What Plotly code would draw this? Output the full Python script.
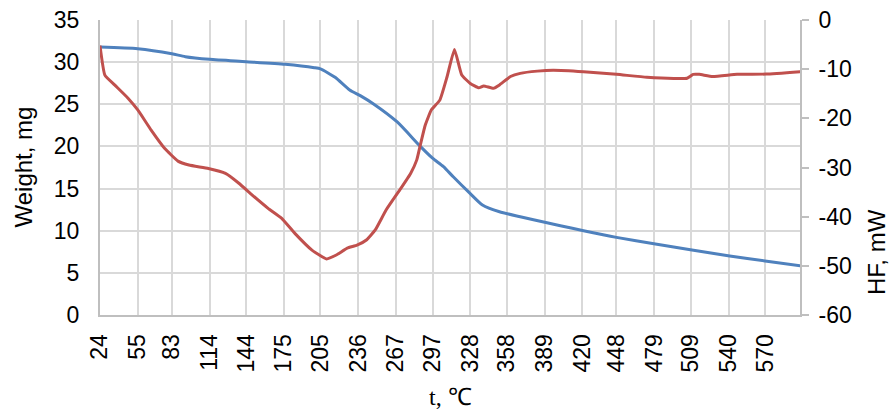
import plotly.graph_objects as go

# Weight (left axis), mg
t_weight = [24, 55, 83, 94, 114, 144, 176, 200, 205, 217, 229, 238, 248, 268, 287, 297, 306, 314, 328, 338, 352, 369, 391, 402, 421, 448, 480, 510, 541, 570, 599]
weight = [31.8, 31.6, 31.0, 30.65, 30.33, 30.05, 29.74, 29.34, 29.2, 28.2, 26.7, 26.0, 25.1, 22.9, 20.0, 18.6, 17.6, 16.4, 14.4, 13.05, 12.25, 11.66, 10.95, 10.6, 10.0, 9.21, 8.42, 7.71, 7.0, 6.41, 5.85]

# Heat flow (right axis), mW
t_hf = [24, 28, 36, 47, 55, 66, 77, 88, 97, 113, 127, 138, 149, 162, 173, 184, 198, 210, 218, 227, 235, 243, 250, 259, 270, 279, 284, 287, 291, 296, 303, 309, 315, 321, 328, 335, 339, 347, 352, 361, 369, 383, 396, 421, 448, 473, 495, 506, 511, 516, 527, 547, 571, 599]
hf = [-5.2, -11.2, -13.2, -15.9, -18.3, -22.4, -26.1, -28.7, -29.5, -30.2, -31.2, -33.2, -35.6, -38.3, -40.3, -43.4, -46.8, -48.6, -47.8, -46.4, -45.8, -44.7, -42.7, -38.6, -34.6, -31.2, -28.5, -25.4, -21.4, -18.3, -16.3, -11.5, -6.0, -11.2, -12.9, -13.8, -13.4, -13.9, -13.2, -11.5, -10.85, -10.4, -10.2, -10.5, -11.05, -11.65, -11.9, -11.85, -11.05, -11.05, -11.5, -11.05, -11.0, -10.5]

x_ticks = [24, 55, 83, 114, 144, 175, 205, 236, 267, 297, 328, 358, 389, 420, 448, 479, 509, 540, 570]
y2_ticks = [-60, -50, -40, -30, -20, -10, 0]
y2_labels = ["-60", "-50", "-40", "-30", "-20", "-10", "0"]

BLUE = "#4F81BD"
RED = "#C0504D"
GRID = "#D9D9D9"
AXIS = "#BFBFBF"
FONT = "Liberation Sans, Arial, sans-serif"
TICK = 23
TITLE = 24

fig = go.Figure()
fig.add_trace(go.Scatter(x=t_weight, y=weight, mode="lines",
                         line=dict(color=BLUE, width=3, shape="spline", smoothing=0.6), yaxis="y", showlegend=False))
fig.add_trace(go.Scatter(x=t_hf, y=hf, mode="lines",
                         line=dict(color=RED, width=3, shape="spline", smoothing=0.4), yaxis="y2", showlegend=False))

fig.update_layout(
    width=891, height=410,
    margin=dict(l=100, r=91, t=20, b=95),
    paper_bgcolor="white", plot_bgcolor="white",
    font=dict(family=FONT, size=TICK, color="black"),
    hovermode=False,
    xaxis=dict(
        range=[24, 598.7], tickmode="array", tickvals=x_ticks, ticktext=[str(v) for v in x_ticks],
        tickangle=-90, showgrid=True, gridcolor=GRID, gridwidth=2,
        showline=True, linecolor=AXIS, linewidth=2, ticks="", zeroline=False,
        tickfont=dict(size=TICK), ticklabelstandoff=8, automargin=False, ticklabeloverflow="allow",
    ),
    yaxis=dict(
        range=[0, 35], tickmode="array", tickvals=[0, 5, 10, 15, 20, 25, 30, 35],
        showgrid=True, gridcolor=GRID, gridwidth=2,
        showline=True, linecolor=AXIS, linewidth=2, ticks="", zeroline=False,
        tickfont=dict(size=TICK), ticklabelstandoff=14, automargin=False, ticklabeloverflow="allow",
    ),
    yaxis2=dict(
        range=[-60, 0], tickmode="array", tickvals=y2_ticks, ticktext=y2_labels,
        overlaying="y", side="right", showgrid=False,
        showline=True, linecolor=AXIS, linewidth=2, ticks="outside", ticklen=7, tickwidth=2, tickcolor=AXIS,
        zeroline=False, tickfont=dict(size=TICK), ticklabelstandoff=5, automargin=False, ticklabeloverflow="allow",
    ),
    annotations=[
        dict(text="Weight, mg", xref="paper", yref="paper", x=-0.11, y=0.5, xanchor="center", yanchor="middle",
             textangle=-90, showarrow=False, font=dict(size=TITLE, family=FONT)),
        dict(text="HF, mW", xref="paper", yref="paper", x=1.11, y=0.2136, xanchor="center", yanchor="middle",
             textangle=-90, showarrow=False, font=dict(size=TITLE, family=FONT)),
        dict(text="t, ℃", xref="paper", yref="paper", x=0.5, y=-0.278, xanchor="center", yanchor="middle",
             showarrow=False, font=dict(size=TITLE, family="Liberation Serif, Times New Roman, serif")),
    ],
)

# remove the default 8px page margin so the figure fills the 891x410 window exactly
fig.write_html("out.html", config={"displayModeBar": False},
               post_script="document.body.style.margin='0';document.body.style.overflow='hidden';")
